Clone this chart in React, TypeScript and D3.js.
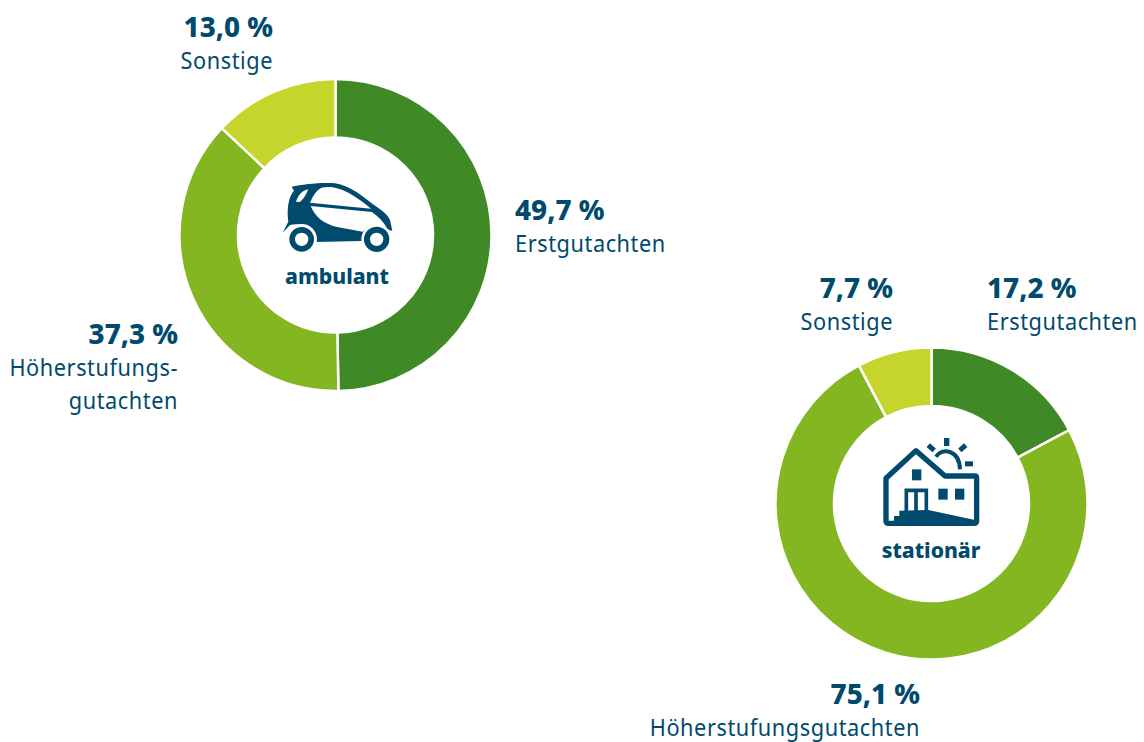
import React from "react";
import * as d3 from "d3";

const categories = ["Erstgutachten", "Höherstufungsgutachten", "Sonstige"];
const ambulantValues = [49.7, 37.3, 13.0];
const stationaerValues = [17.2, 75.1, 7.7];
const sliceColors = ["#3f8a26", "#84b622", "#c6d52b"];
const TEXT = "#004a6e";
const FONT = "'Noto Sans', 'Open Sans', sans-serif";

const color = d3.scaleOrdinal<string, string>().domain(categories).range(sliceColors);
const pie = d3.pie<number>().sort(null).padAngle(0);
const arc = d3.arc<d3.PieArcDatum<number>>().innerRadius(97.5).outerRadius(156);

function Donut({ cx, cy, values }: { cx: number; cy: number; values: number[] }) {
  return (
    <g transform={`translate(${cx},${cy})`}>
      {pie(values).map((d, i) => (
        <path key={i} d={arc(d) || ""} fill={color(categories[i])} stroke="#fff" strokeWidth={2.5} />
      ))}
    </g>
  );
}

function Label({ x, y, pct, lines, anchor = "start" }: { x: number; y: number; pct: string; lines: string[]; anchor?: string }) {
  return (
    <g textAnchor={anchor} fontFamily={FONT} fill={TEXT}>
      <text transform={`translate(${x},${y}) scale(0.96,1)`} fontSize={29} fontWeight={800}>{pct}</text>
      {lines.map((l, i) => (
        <text key={i} transform={`translate(${x},${y + 32 + i * 33}) scale(0.945,1)`} fontSize={23} letterSpacing={0.6}>{l}</text>
      ))}
    </g>
  );
}

function Car() {
  return (
    <g transform="translate(270,170) scale(0.3333)" fill={TEXT}>
      <path d="M65,50 C100,42 160,36 195,40 C235,46 270,72 305,100 C330,118 352,132 360,150 L367,182 L345,178 C325,160 295,165 280,195 L275,213 L135,216 C135,180 100,155 60,165 L38,188 L55,155 C50,120 55,80 72,62 Z" />
      <path d="M120,98 C130,75 140,60 155,53 C195,45 235,60 303,116 Z" fill="#fff" />
      <path d="M122,108 L306,126 C325,140 340,155 350,172 C325,158 295,165 278,185 L205,172 C160,162 135,140 122,108 Z" fill="#fff" />
      <path d="M78,95 C85,75 95,62 115,58 C108,75 100,88 90,96 Z" fill="#fff" />
      <circle cx="95" cy="208" r="46" fill="#fff" />
      <circle cx="320" cy="208" r="46" fill="#fff" />
      <circle cx="95" cy="208" r="28.5" fill="none" stroke={TEXT} strokeWidth={17} />
      <circle cx="320" cy="208" r="29" fill="none" stroke={TEXT} strokeWidth={18} />
    </g>
  );
}

function House() {
  return (
    <g transform="translate(870,430) scale(0.3333)">
      <path d="M48,145 L138,62 L225,138 L315,138 Q320,138 320,146 L320,272 Q320,280 312,280 L56,280 Q48,280 48,272 Z" fill="#fff" stroke={TEXT} strokeWidth={16} strokeLinejoin="round" />
      <path d="M72,275 L72,258 L88,258 L88,242 L175,240 L315,270 L315,276 Z" fill={TEXT} />
      <rect x="126" y="118" width="28" height="33" fill={TEXT} />
      <rect x="205" y="176" width="28" height="33" fill={TEXT} />
      <rect x="255" y="176" width="28" height="33" fill={TEXT} />
      <path d="M109,244 L109,181 L169,181 L169,244 M138,181 L138,244" fill="none" stroke={TEXT} strokeWidth={11} />
      <path d="M198,80 C215,52 268,58 270,118" fill="none" stroke={TEXT} strokeWidth={12} />
      <rect x="222" y="24" width="16" height="24" fill={TEXT} />
      <rect x="285" y="94" width="24" height="15" fill={TEXT} />
      <rect x="172" y="46" width="24" height="15" transform="rotate(42 184 53)" fill={TEXT} />
      <rect x="266" y="46" width="24" height="15" transform="rotate(-42 278 53)" fill={TEXT} />
    </g>
  );
}

export default function App() {
  return (
    <svg width={1144} height={742} style={{ position: "absolute", left: 0, top: 0 }}>
      <Donut cx={335.5} cy={235} values={ambulantValues} />
      <Donut cx={931.5} cy={503.5} values={stationaerValues} />
      <Car />
      <House />
      <text transform="translate(337,284) scale(0.96,1)" textAnchor="middle" fontFamily={FONT} fontSize={22} fontWeight={800} fill={TEXT}>ambulant</text>
      <text transform="translate(931,558) scale(0.96,1)" textAnchor="middle" fontFamily={FONT} fontSize={22} fontWeight={800} fill={TEXT}>stationär</text>
      <Label x={273} y={37} pct="13,0 %" lines={["Sonstige"]} anchor="end" />
      <Label x={515} y={220} pct="49,7 %" lines={["Erstgutachten"]} />
      <Label x={178} y={344} pct="37,3 %" lines={["Höherstufungs-", "gutachten"]} anchor="end" />
      <Label x={893} y={298} pct="7,7 %" lines={["Sonstige"]} anchor="end" />
      <Label x={987} y={298} pct="17,2 %" lines={["Erstgutachten"]} />
      <Label x={920} y={704} pct="75,1 %" lines={["Höherstufungsgutachten"]} anchor="end" />
    </svg>
  );
}
